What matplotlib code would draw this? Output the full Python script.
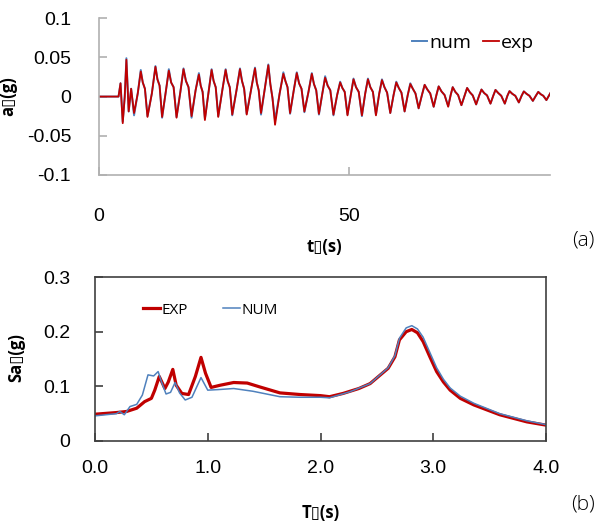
import matplotlib
matplotlib.use("Agg")
import matplotlib.pyplot as plt
import numpy as np

# ---- (a) acceleration time history ----
start_t = [0.0, 3.9, 4.3]
start_a = [0.0, 0.0, 0.017]
trough_t = [4.74, 7.0, 9.68, 12.6, 15.48, 18.48, 21.14, 23.8, 26.6, 29.48, 32.34,
            35.14, 38.14, 41.0, 43.9, 46.8, 49.6, 52.48, 55.28, 58.14, 61.0, 63.8,
            66.8, 69.7, 72.34, 75.28, 78.14, 81.0, 83.8, 86.6, 89.3]
trough_exp = [-0.034, -0.021, -0.026, -0.026, -0.027, -0.025, -0.030, -0.026, -0.023,
              -0.023, -0.021, -0.036, -0.021, -0.019, -0.022, -0.023, -0.024, -0.024,
              -0.024, -0.021, -0.019, -0.015, -0.013, -0.013, -0.011, -0.010, -0.009,
              -0.009, -0.0075, -0.0055, -0.0045]
trough_num = [-0.032, -0.024, -0.025, -0.027, -0.026, -0.027, -0.028, -0.025, -0.024,
              -0.022, -0.023, -0.030, -0.022, -0.020, -0.023, -0.024, -0.023, -0.025,
              -0.023, -0.021, -0.019, -0.015, -0.013, -0.012, -0.011, -0.010, -0.009,
              -0.009, -0.0075, -0.0055, -0.0045]
peak_t = [5.47, 8.34, 11.27, 13.94, 16.87, 19.94, 22.48, 25.28, 28.14, 31.14, 33.8,
          36.8, 39.48, 42.48, 45.14, 48.14, 50.8, 53.68, 56.48, 59.34, 62.14, 65.0,
          67.8, 70.6, 73.48, 76.34, 79.14, 81.94, 84.8, 87.68]
peak_exp = [0.047, 0.032, 0.038, 0.033, 0.035, 0.028, 0.034, 0.034, 0.035, 0.036, 0.040,
            0.029, 0.030, 0.029, 0.024, 0.018, 0.022, 0.022, 0.021, 0.018, 0.016, 0.015,
            0.013, 0.012, 0.011, 0.009, 0.0085, 0.007, 0.0066, 0.006]
peak_num = [0.049, 0.034, 0.039, 0.035, 0.036, 0.030, 0.035, 0.035, 0.036, 0.037, 0.041,
            0.031, 0.031, 0.030, 0.026, 0.019, 0.023, 0.023, 0.022, 0.019, 0.017, 0.015,
            0.013, 0.012, 0.011, 0.009, 0.0085, 0.007, 0.0066, 0.006]
# knee on the way up, then two points on the decay after each peak
rise_knee = [0.0, 0.004, 0.004, 0.006, 0.006, 0.008, 0.006, 0.008, 0.008, 0.010, 0.012,
             0.004, 0.008, 0.006, 0.004, 0.002, 0.002, 0.004, 0.004, 0.002, 0.002, 0.002,
             0.002, 0.002, 0.001, 0.001, 0.001, 0.001, 0.001, 0.001]
shoulder1 = [-0.019, 0.018, 0.022, 0.018, 0.020, 0.014, 0.020, 0.020, 0.020, 0.018, 0.016,
             0.020, 0.017, 0.016, 0.014, 0.011, 0.012, 0.012, 0.012, 0.011, 0.010, 0.009,
             0.0065, 0.006, 0.0055, 0.0045, 0.0045, 0.0035, 0.0035, 0.003]
shoulder2 = [0.010, 0.010, 0.014, 0.012, 0.012, 0.006, 0.012, 0.012, 0.010, 0.008, -0.002,
             0.012, 0.010, 0.008, 0.008, 0.006, 0.006, 0.006, 0.005, 0.005, 0.004, 0.004,
             0.002, 0.002, 0.0015, 0.0015, 0.001, 0.001, 0.001, 0.001]
end_t = [90.1]
end_a = [0.0045]

# ---- (b) response spectra ----
T_exp = [0.0, 0.19, 0.28, 0.37, 0.44, 0.50, 0.53, 0.57, 0.62, 0.65, 0.69, 0.72, 0.77,
         0.83, 0.89, 0.94, 0.98, 1.03, 1.11, 1.23, 1.35, 1.46, 1.64, 1.82, 2.0, 2.08,
         2.2, 2.34, 2.44, 2.60, 2.66, 2.70, 2.76, 2.81, 2.86, 2.91, 2.97, 3.03, 3.09,
         3.15, 3.24, 3.36, 3.59, 3.83, 4.0]
Sa_exp = [0.049, 0.052, 0.054, 0.060, 0.072, 0.078, 0.093, 0.118, 0.096, 0.108, 0.131,
          0.102, 0.087, 0.085, 0.118, 0.153, 0.124, 0.098, 0.102, 0.107, 0.106, 0.099,
          0.088, 0.085, 0.083, 0.081, 0.087, 0.096, 0.105, 0.133, 0.154, 0.185, 0.200,
          0.204, 0.198, 0.182, 0.154, 0.127, 0.108, 0.093, 0.078, 0.066, 0.048, 0.035,
          0.029]
T_num = [0.0, 0.19, 0.22, 0.26, 0.31, 0.37, 0.42, 0.47, 0.52, 0.56, 0.59, 0.63, 0.67,
         0.71, 0.75, 0.80, 0.86, 0.94, 1.0, 1.09, 1.23, 1.40, 1.64, 1.82, 2.0, 2.08,
         2.26, 2.44, 2.60, 2.66, 2.70, 2.76, 2.81, 2.86, 2.91, 2.97, 3.03, 3.09, 3.15,
         3.24, 3.36, 3.59, 3.83, 4.0]
Sa_num = [0.046, 0.050, 0.054, 0.048, 0.063, 0.067, 0.084, 0.121, 0.119, 0.127, 0.108,
          0.086, 0.089, 0.107, 0.088, 0.075, 0.080, 0.116, 0.093, 0.094, 0.096, 0.091,
          0.081, 0.080, 0.080, 0.079, 0.090, 0.105, 0.134, 0.156, 0.188, 0.207, 0.211,
          0.205, 0.190, 0.162, 0.134, 0.113, 0.097, 0.082, 0.069, 0.050, 0.037, 0.030]


def build_series(troughs, peaks):
    # chain the read points: trough -> knee -> peak -> decay points -> next trough
    t = list(start_t)
    a = list(start_a)
    for i in range(len(peak_t)):
        rise = peak_t[i] - trough_t[i]
        fall = trough_t[i + 1] - peak_t[i]
        t += [trough_t[i], trough_t[i] + 0.55 * rise, peak_t[i],
              peak_t[i] + 0.3 * fall, peak_t[i] + 0.62 * fall]
        a += [troughs[i], rise_knee[i], peaks[i], shoulder1[i], shoulder2[i]]
    t.append(trough_t[-1]); a.append(troughs[-1])
    return t + end_t, a + end_a


t_num, a_num = build_series(trough_num, peak_num)
t_exp, a_exp = build_series(trough_exp, peak_exp)

BLUE = "#4F81BD"
RED = "#C00000"
TICKFONT = "Liberation Sans"
LABELFONT = ["Open Sans", "DejaVu Sans"]

fig = plt.figure(figsize=(6.11, 5.22), dpi=100)

# ---------- (a) ----------
ax1 = fig.add_axes([0.162, 0.665, 0.738, 0.300])
ax1.plot(t_num, a_num, color=BLUE, lw=1.4, label="num")
ax1.plot(t_exp, a_exp, color=RED, lw=1.3, label="exp")
ax1.set_xlim(0, 90)
ax1.set_ylim(-0.1, 0.1)
ax1.set_xticks([0, 50])
ax1.set_yticks([-0.1, -0.05, 0, 0.05, 0.1])
ax1.set_yticklabels(["-0.1", "-0.05", "0", "0.05", "0.1"])
for s in ["top", "right"]:
    ax1.spines[s].set_visible(False)
for s in ["left", "bottom"]:
    ax1.spines[s].set_color("#B0B0B0")
    ax1.spines[s].set_linewidth(1.2)
ax1.tick_params(axis="both", direction="in", length=6, color="#B0B0B0", width=1.2)
ax1.tick_params(axis="y", pad=20)
ax1.tick_params(axis="x", pad=24)
for lab in ax1.get_xticklabels() + ax1.get_yticklabels():
    lab.set_fontfamily(TICKFONT)
    lab.set_fontsize(14)
ax1.set_xlabel("t\u25af(s)", fontsize=12, fontweight="bold", family=LABELFONT)
ax1.set_ylabel("a\u25af(g)", fontsize=12, fontweight="bold", family=LABELFONT)
ax1.xaxis.set_label_coords(0.5, -0.405)
ax1.yaxis.set_label_coords(-0.182, 0.5)
ax1.legend(loc="center left", bbox_to_anchor=(0.674, 0.918),
           bbox_transform=fig.transFigure, ncol=2, frameon=False,
           handlelength=0.8, handletextpad=0.1, columnspacing=0.6,
           borderpad=0, borderaxespad=0,
           prop={"family": LABELFONT, "size": 14})
fig.text(583 / 611, 1 - 240 / 522, "(a)", fontsize=15, family=LABELFONT,
         fontweight="light", ha="center", va="center")

# ---------- (b) ----------
ax2 = fig.add_axes([0.1555, 0.1552, 0.7381, 0.3141])
ax2.plot(T_exp, Sa_exp, color=RED, lw=2.3, label="EXP", solid_joinstyle="round")
ax2.plot(T_num, Sa_num, color=BLUE, lw=1.1, label="NUM")
ax2.set_xlim(0, 4)
ax2.set_ylim(0, 0.3)
ax2.set_xticks([0, 1, 2, 3, 4])
ax2.set_xticklabels(["0.0", "1.0", "2.0", "3.0", "4.0"])
ax2.set_yticks([0, 0.1, 0.2, 0.3])
ax2.set_yticklabels(["0", "0.1", "0.2", "0.3"])
for s in ax2.spines.values():
    s.set_color("#404040")
    s.set_linewidth(1.2)
ax2.tick_params(axis="both", direction="in", length=6, color="#404040", width=1.2)
ax2.tick_params(axis="y", pad=18)
ax2.tick_params(axis="x", pad=14)
for lab in ax2.get_xticklabels() + ax2.get_yticklabels():
    lab.set_fontfamily(TICKFONT)
    lab.set_fontsize(14)
ax2.set_xlabel("T\u25af(s)", fontsize=12, fontweight="bold", family=LABELFONT)
ax2.set_ylabel("Sa\u25af(g)", fontsize=12, fontweight="bold", family=LABELFONT)
ax2.xaxis.set_label_coords(0.5, -0.384)
ax2.yaxis.set_label_coords(-0.155, 0.506)
ax2.legend(loc="center left", bbox_to_anchor=(0.234, 0.406),
           bbox_transform=fig.transFigure, ncol=2, frameon=False,
           handlelength=1.1, handletextpad=0.1, columnspacing=2.3,
           borderpad=0, borderaxespad=0,
           prop={"family": LABELFONT, "size": 11})
fig.text(583 / 611, 1 - 505 / 522, "(b)", fontsize=15, family=LABELFONT,
         fontweight="light", ha="center", va="center")

fig.savefig("out.png", dpi=100)
